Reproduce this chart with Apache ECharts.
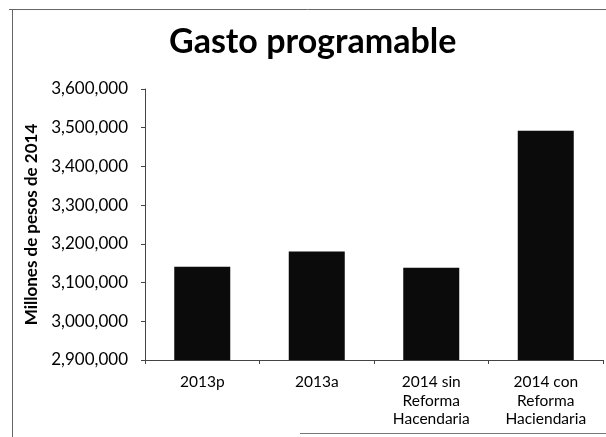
<!DOCTYPE html>
<html>
<head>
<meta charset="utf-8">
<script src="https://cdn.jsdelivr.net/npm/echarts@6/dist/echarts.min.js"></script>
<style>html,body{margin:0;padding:0;background:#fff;}#c{width:606px;height:437px;}</style>
</head>
<body>
<div id="c"></div>
<script>
const categories = ['2013p', '2013a', '2014 sin\nReforma\nHacendaria', '2014 con\nReforma\nHaciendaria'];
const values = [3141000, 3180000, 3138000, 3492000];
const yMin = 2900000, yMax = 3600000, yStep = 100000;

const chart = echarts.init(document.getElementById('c'), null, {renderer: 'canvas'});
chart.setOption({
  animation: false,
  backgroundColor: '#fff',
  title: {
    text: 'Gasto programable',
    left: 164,
    top: 20,
    textStyle: {fontFamily: 'Lato', fontWeight: 'bold', fontSize: 34, color: '#000'}
  },
  graphic: [
    {type: 'line', shape: {x1: 9, y1: 9.5, x2: 606, y2: 9.5}, style: {stroke: '#666', lineWidth: 1}},
    {type: 'line', shape: {x1: 12.5, y1: 9, x2: 12.5, y2: 437}, style: {stroke: '#666', lineWidth: 1}},
    {type: 'line', shape: {x1: 300, y1: 433.5, x2: 606, y2: 433.5}, style: {stroke: '#777', lineWidth: 1}}
  ],
  grid: {left: 145, right: 3, top: 89, bottom: 77, containLabel: false},
  xAxis: {
    type: 'category',
    data: categories,
    axisLine: {lineStyle: {color: '#444', width: 1}},
    axisTick: {show: true, length: 4, lineStyle: {color: '#444'}},
    axisLabel: {fontFamily: 'Lato', fontSize: 15.5, color: '#000', lineHeight: 18.5, margin: 13, interval: 0}
  },
  yAxis: {
    type: 'value',
    min: yMin, max: yMax, interval: yStep,
    name: 'Millones de pesos de 2014',
    nameLocation: 'middle',
    nameGap: 100,
    nameTextStyle: {fontFamily: 'Lato', fontWeight: 'bold', fontSize: 17, color: '#000'},
    axisLine: {show: true, lineStyle: {color: '#444', width: 1}},
    axisTick: {show: true, length: 4, lineStyle: {color: '#444'}},
    splitLine: {show: false},
    axisLabel: {
      fontFamily: 'Lato', fontSize: 17, color: '#000', margin: 17,
      formatter: v => v.toLocaleString('en-US')
    }
  },
  series: [{
    type: 'bar',
    data: values,
    barWidth: 56,
    itemStyle: {color: '#0b0b0b'}
  }]
});
</script>
</body>
</html>
